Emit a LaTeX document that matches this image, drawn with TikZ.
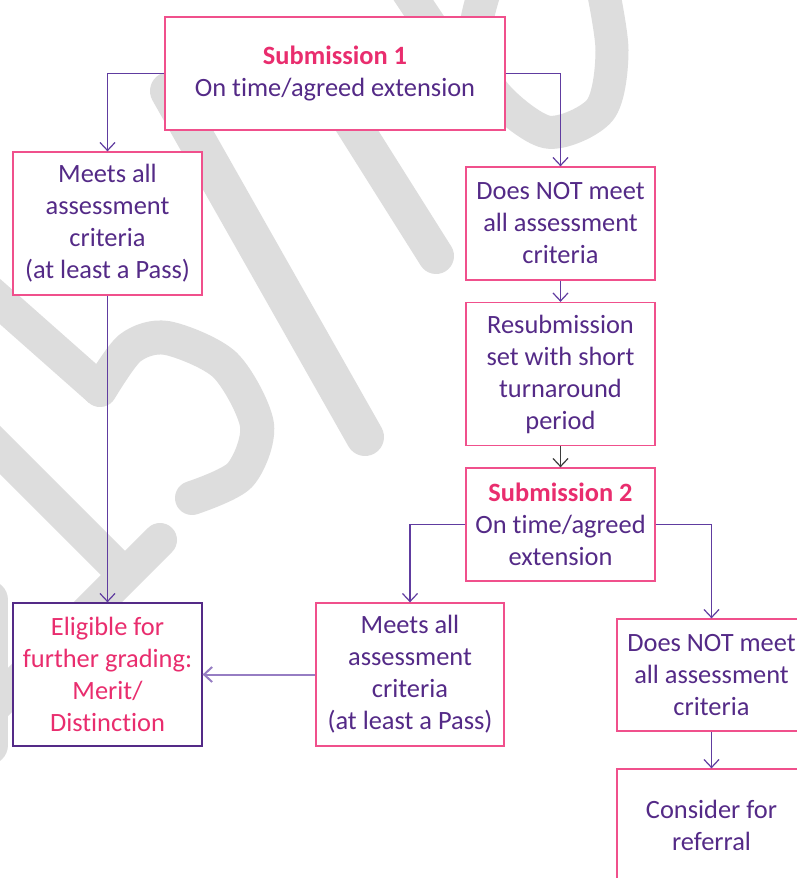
\documentclass[tikz,border=0pt]{standalone}
\usepackage{fontspec}
\setmainfont{Carlito}[Ligatures={NoCommon}]
\usetikzlibrary{arrows.meta}
\definecolor{wm}{RGB}{221,221,221}
\definecolor{boxpink}{RGB}{240,80,140}
\definecolor{subpink}{RGB}{233,45,110}
\definecolor{txtpurple}{RGB}{84,42,135}
\definecolor{linepurple}{RGB}{96,60,160}
\definecolor{lightpurple}{RGB}{150,125,195}
\definecolor{darkline}{RGB}{60,60,60}
\begin{document}
\begin{tikzpicture}[x=1pt,y=-1pt,
  box/.style={draw=boxpink, line width=1.3pt, fill=white, inner sep=0pt, align=center,
    text=txtpurple, font=\fontsize{26.4}{32}\selectfont},
  conn/.style={draw=linepurple, line width=1.2pt, -{Straight Barb[length=8pt,width=15pt]}},
  wmk/.style={draw=wm, line width=34pt, line cap=round, line join=round}]
\useasboundingbox (0,0) rectangle (797,878);
\fill[white] (0,0) rectangle (797,878);
% watermark
\draw[wmk, line width=38pt] (169,91) -- (365,437);
\draw[wmk, line width=36pt] (300,40) -- (436,256);
\draw[wmk, line width=33pt] (400,-20) -- (440,40);
\draw[wmk, line width=33pt] plot[smooth] coordinates {(490,-25) (476,30) (492,90) (547,132) (600,110) (612,50) (600,-25)};
\draw[wmk, line cap=butt] (-30,275) -- (100,390);
\draw[wmk] plot[smooth] coordinates {(100,390) (130,348) (167,338) (225,365) (257,425) (240,475) (192,498)};
\draw[wmk, line cap=butt] (-30,420) -- (125,575);
\draw[wmk] (160,540) -- (-40,740);
\draw[wmk, line width=40pt] (-12,600) -- (-12,745);
% nodes
\node[box, minimum width=340pt, minimum height=113pt] (s1) at (335,73.5)
  {\textbf{\color{subpink}Submission 1}\\On time/agreed extension};
\node[box, minimum width=189pt, minimum height=143pt] (m1) at (107.5,223.5)
  {Meets all\\assessment\\criteria\\(at least a Pass)};
\node[box, minimum width=189pt, minimum height=113pt] (n1) at (560.5,223.5)
  {Does NOT meet\\all assessment\\criteria};
\node[box, minimum width=189pt, minimum height=143pt] (r) at (560.5,374)
  {Resubmission\\set with short\\turnaround\\period};
\node[box, minimum width=189pt, minimum height=113pt] (s2) at (560.5,524.5)
  {\textbf{\color{subpink}Submission 2}\\On time/agreed\\extension};
\node[box, minimum width=188pt, minimum height=143pt] (m2) at (410,674.5)
  {Meets all\\assessment\\criteria\\(at least a Pass)};
\node[box, draw=txtpurple, text=subpink, minimum width=189pt, minimum height=143pt] (e) at (107.5,674.5)
  {Eligible for\\further grading:\\Merit/\\Distinction};
\node[box, minimum width=189pt, minimum height=112pt] (n2) at (711.5,675)
  {Does NOT meet\\all assessment\\criteria};
\node[box, minimum width=189pt, minimum height=112pt] (c) at (711.5,825)
  {Consider for\\referral};
% connectors
\draw[conn] (s1.west) -| (m1.north);
\draw[conn] (s1.east) -| (n1.north);
\draw[conn] (n1.south) -- (r.north);
\draw[conn, draw=darkline] (r.south) -- (s2.north);
\draw[conn] (s2.west) -| (m2.north);
\draw[conn] (s2.east) -| (n2.north);
\draw[conn] (n2.south) -- (c.north);
\draw[conn] (m1.south) -- (e.north);
\draw[conn, draw=lightpurple, line width=2pt] (m2.west) -- (e.east);
\end{tikzpicture}
\end{document}
